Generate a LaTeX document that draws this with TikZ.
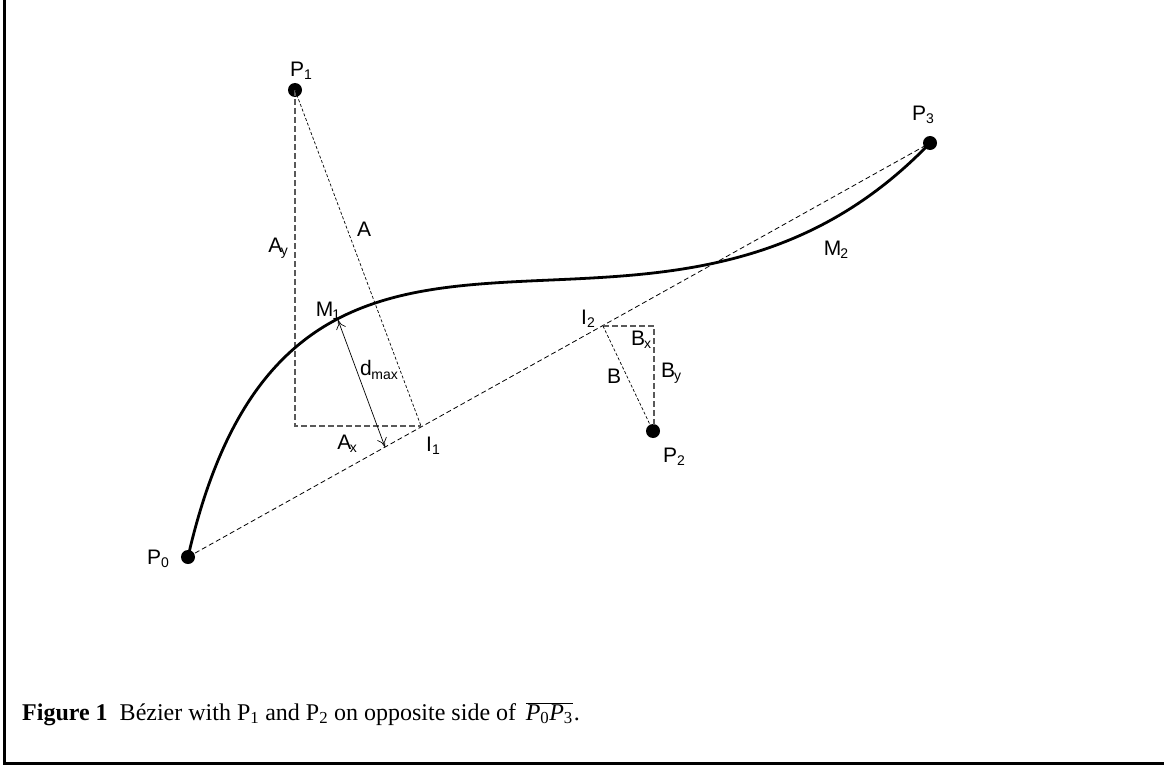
\documentclass[tikz,border=0pt]{standalone}
\usepackage{fontspec}
\setmainfont{Liberation Serif}
\newfontfamily\lblfont{Liberation Sans}
\usetikzlibrary{arrows.meta}
\newcommand{\lsub}[1]{\raisebox{-0.3ex}{\fontsize{14}{14}\selectfont #1}}
\begin{document}
\begin{tikzpicture}[x=1pt,y=-1pt,
  dot/.style={circle,fill=black,inner sep=0pt,minimum size=14pt},
  lbl/.style={inner sep=0pt,font=\lblfont\fontsize{21}{21}\selectfont},
  curve/.style={line width=2.8pt},
  chord/.style={line width=0.8pt,dash pattern=on 5pt off 3pt},
  guide/.style={line width=1.1pt,gray!70!black,dash pattern=on 6pt off 3pt},
  fine/.style={line width=0.7pt,dash pattern=on 3pt off 2pt},
  dimarrow/.style={line width=0.7pt,{To[length=9pt,width=10pt]}-{To[length=9pt,width=10pt]}},
  frame/.style={line width=3pt}]
\useasboundingbox (0,0) rectangle (1164,765);
% frame
\coordinate (ftl) at (4,0);
\coordinate (fbl) at (4,763);
\coordinate (fbr) at (1164,763);
\draw[frame] (ftl) -- (fbl) -- (fbr);
% control points
\node[dot] (p0) at (188,557) {};
\node[dot] (p1) at (295,90) {};
\node[dot] (p2) at (653,431) {};
\node[dot] (p3) at (930,143) {};
% helper points
\coordinate (i1) at (421,426);
\coordinate (ac) at (295,426);
\coordinate (i2) at (603,326);
\coordinate (bc) at (654,326);
\coordinate (bd) at (654,425);
\coordinate (m1) at (338,320);
\coordinate (f1) at (385,447);
% chord
\draw[chord] (p0.center) -- (p3.center);
% A triangle
\draw[guide] (p1.center) -- (ac) -- (i1);
\draw[fine] (p1.center) -- (i1);
% B triangle
\draw[guide] (i2) -- (bc) -- (bd);
\draw[fine] (i2) -- (p2.center);
% d max
\draw[dimarrow] (m1) -- (f1);
% curve
\draw[curve] (p0.center) .. controls (p1.center) and (p2.center) .. (p3.center);
% labels
\node[lbl] (lp0) at (158,559) {P\lsub{0}};
\node[lbl] (lp1) at (301,71) {P\lsub{1}};
\node[lbl] (lp2) at (674,457) {P\lsub{2}};
\node[lbl] (lp3) at (923,115) {P\lsub{3}};
\node[lbl] (la) at (364,229) {A};
\node[lbl] (lay) at (278,248) {A\kern-1.5pt\lsub{y}};
\node[lbl] (lm1) at (328,311) {M\kern-1pt\lsub{1}};
\node[lbl] (ld) at (379,370) {d\kern-0.5pt\lsub{max}};
\node[lbl] (lax) at (347,444) {A\kern-1.5pt\lsub{x}};
\node[lbl] (li1) at (433,446) {I\lsub{1}};
\node[lbl] (li2) at (588,319) {I\lsub{2}};
\node[lbl] (lbx) at (641,340) {B\kern-1pt\lsub{x}};
\node[lbl] (lb) at (614,376) {B};
\node[lbl] (lby) at (671,373) {B\kern-1pt\lsub{y}};
\node[lbl] (lm2) at (836,250) {M\kern-1pt\lsub{2}};
% caption
\node[anchor=base west,inner sep=0pt,font=\fontsize{24}{27}\selectfont] (cap) at (22,720)
  {\textbf{Figure 1}\hspace{0.5em}Bézier with P\textsubscript{1} and P\textsubscript{2} on opposite side of\hspace{0.4em}$\overline{\mbox{\itshape P\upshape\textsubscript{0}\itshape P\upshape\textsubscript{3}}}$\kern1pt.};
\end{tikzpicture}
\end{document}
